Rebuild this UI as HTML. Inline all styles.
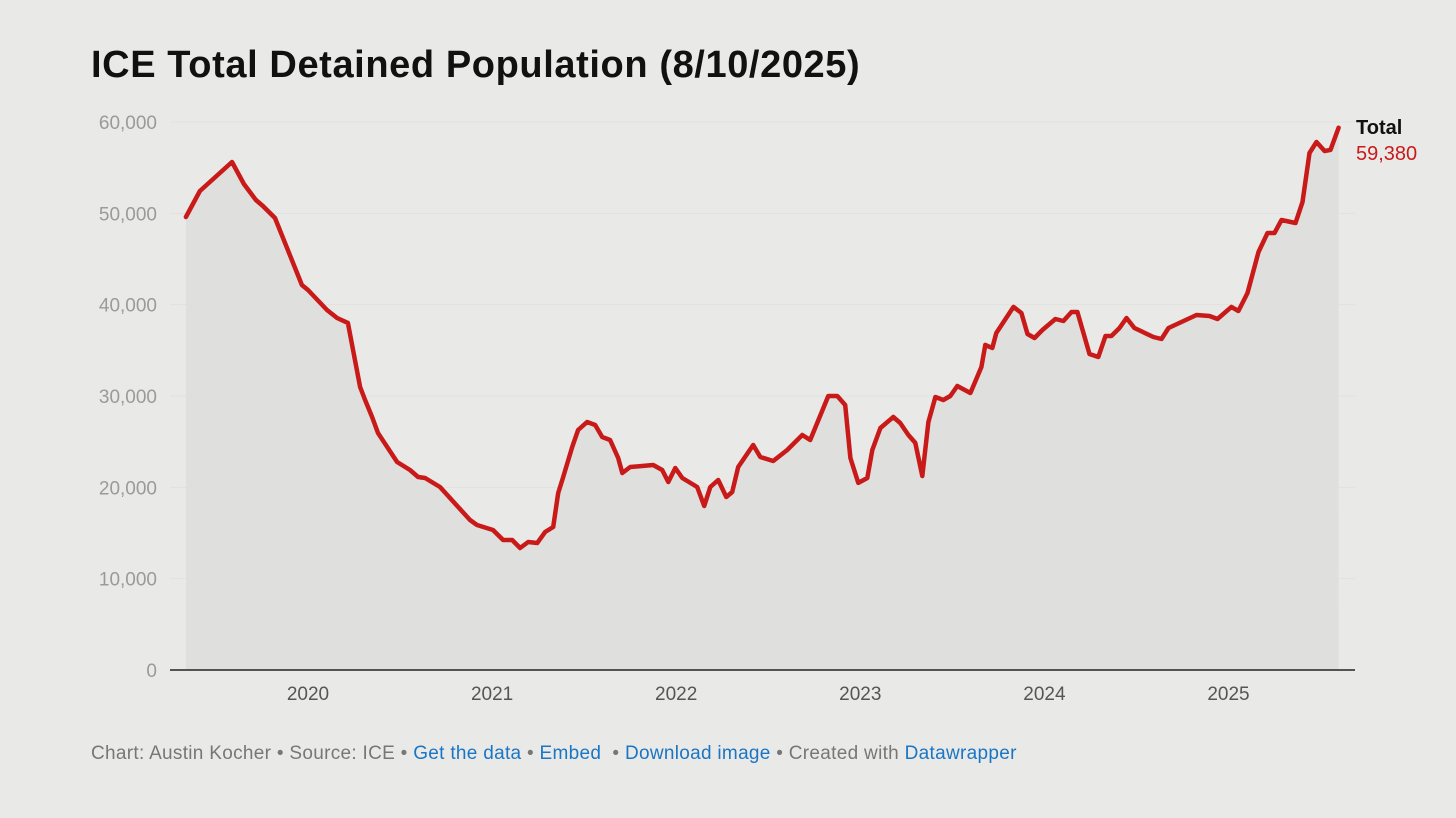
<!DOCTYPE html>
<html><head><meta charset="utf-8">
<style>
body{margin:0;background:#e9eae7;font-family:"Liberation Sans",sans-serif;}
#wrap{position:relative;width:1456px;height:818px;overflow:hidden;}
h1{position:absolute;left:91px;top:44px;margin:0;font-size:38px;font-weight:bold;color:#111;letter-spacing:0.6px;}
#foot{position:absolute;left:91px;top:743px;font-size:19px;color:#777;letter-spacing:0.3px;}
#foot a{color:#1a75c4;text-decoration:none;}
</style></head><body>
<div id="wrap">
<h1>ICE Total Detained Population (8/10/2025)</h1>
<svg id="chart" width="1456" height="818" style="position:absolute;left:0;top:0"></svg>
<div id="foot">Chart: Austin Kocher • Source: ICE • <a>Get the data</a> • <a>Embed</a> &nbsp;• <a>Download image</a> • Created with <a>Datawrapper</a></div>
</div>
<script>
const dates=[2019.337,2019.413,2019.587,2019.652,2019.717,2019.755,2019.821,2019.967,2020.000,2020.103,2020.158,2020.217,2020.283,2020.310,2020.348,2020.380,2020.484,2020.554,2020.598,2020.636,2020.717,2020.880,2020.918,2021.005,2021.060,2021.109,2021.152,2021.196,2021.245,2021.288,2021.332,2021.359,2021.386,2021.435,2021.467,2021.516,2021.560,2021.598,2021.641,2021.685,2021.707,2021.750,2021.875,2021.924,2021.957,2021.995,2022.033,2022.114,2022.152,2022.185,2022.228,2022.272,2022.304,2022.337,2022.418,2022.457,2022.527,2022.603,2022.685,2022.728,2022.826,2022.875,2022.918,2022.946,2022.989,2023.038,2023.065,2023.109,2023.179,2023.217,2023.261,2023.299,2023.337,2023.370,2023.408,2023.451,2023.489,2023.527,2023.598,2023.658,2023.679,2023.717,2023.739,2023.832,2023.875,2023.908,2023.946,2023.989,2024.060,2024.103,2024.147,2024.179,2024.245,2024.293,2024.332,2024.364,2024.408,2024.446,2024.489,2024.592,2024.636,2024.674,2024.826,2024.897,2024.940,2025.016,2025.054,2025.103,2025.163,2025.212,2025.250,2025.288,2025.364,2025.402,2025.440,2025.478,2025.522,2025.554,2025.598];
const totals=[49600,52450,55620,53210,51460,50800,49490,42150,41610,39420,38540,38000,30990,29560,27700,25950,22770,21900,21130,21020,20040,16420,15880,15330,14230,14230,13360,14020,13900,15110,15660,19380,21130,24420,26280,27150,26830,25510,25180,23210,21570,22230,22450,21900,20580,22120,21020,20040,17960,20040,20800,18940,19490,22230,24640,23320,22880,24090,25730,25180,30000,30000,29020,23210,20480,21020,24090,26500,27700,27040,25730,24860,21240,27150,29890,29560,30000,31100,30330,33180,35590,35260,36900,39750,39090,36790,36350,37230,38430,38210,39200,39200,34600,34270,36570,36570,37450,38540,37450,36460,36240,37450,38870,38760,38430,39750,39310,41280,45770,47850,47850,49270,48940,51240,56610,57810,56830,56940,59380];
const yTicks=[0,10000,20000,30000,40000,50000,60000];
const yTickLabels=["0","10,000","20,000","30,000","40,000","50,000","60,000"];
const xTicks=[2020,2021,2022,2023,2024,2025];
const xTickLabels=["2020","2021","2022","2023","2024","2025"];
const seriesName="Total";
const lastLabel="59,380";

const svg=document.getElementById('chart');
const NS='http://www.w3.org/2000/svg';
const X=t=>308+(t-2020)*184.1;
const Y=v=>670-v*(548/60000);
function mk(tag,attrs,txt){const e=document.createElementNS(NS,tag);for(const k in attrs)e.setAttribute(k,attrs[k]);if(txt!==undefined)e.textContent=txt;svg.appendChild(e);return e;}
yTicks.forEach((v,i)=>{
  if(v>0){const g=mk('line',{x1:170,x2:1355,y1:Y(v),y2:Y(v),stroke:'#e0e1de','stroke-width':1});
  
  }
  const t=mk('text',{x:157,y:Y(v)+7,'text-anchor':'end','font-size':19,fill:'#9a9a9a','font-family':'Liberation Sans, sans-serif'},yTickLabels[i]);
  
  
});
let d='M'+X(dates[0])+','+Y(0);
dates.forEach((t,i)=>{d+=' L'+X(t).toFixed(1)+','+Y(totals[i]).toFixed(1);});
d+=' L'+X(dates[dates.length-1])+','+Y(0)+' Z';
const area=mk('path',{d:d,fill:'#dfdfdd'});


const base=mk('line',{x1:170,x2:1355,y1:Y(0),y2:Y(0),stroke:'#222','stroke-width':1.5});


xTicks.forEach((t,i)=>{
  const e=mk('text',{x:X(t),y:700,'text-anchor':'middle','font-size':19,fill:'#555','font-family':'Liberation Sans, sans-serif'},xTickLabels[i]);
  
  
});
const pts=dates.map((t,i)=>X(t).toFixed(1)+','+Y(totals[i]).toFixed(1)).join(' ');
const line=mk('polyline',{points:pts,fill:'none',stroke:'#c91a1a','stroke-width':4.5,'stroke-linejoin':'round','stroke-linecap':'round'});


const n=mk('text',{x:1356,y:134,'font-size':20,'font-weight':'bold',fill:'#111','font-family':'Liberation Sans, sans-serif'},seriesName);


const v=mk('text',{x:1356,y:160,'font-size':20,fill:'#c91a1a','font-family':'Liberation Sans, sans-serif'},lastLabel);


</script>
</body></html>
